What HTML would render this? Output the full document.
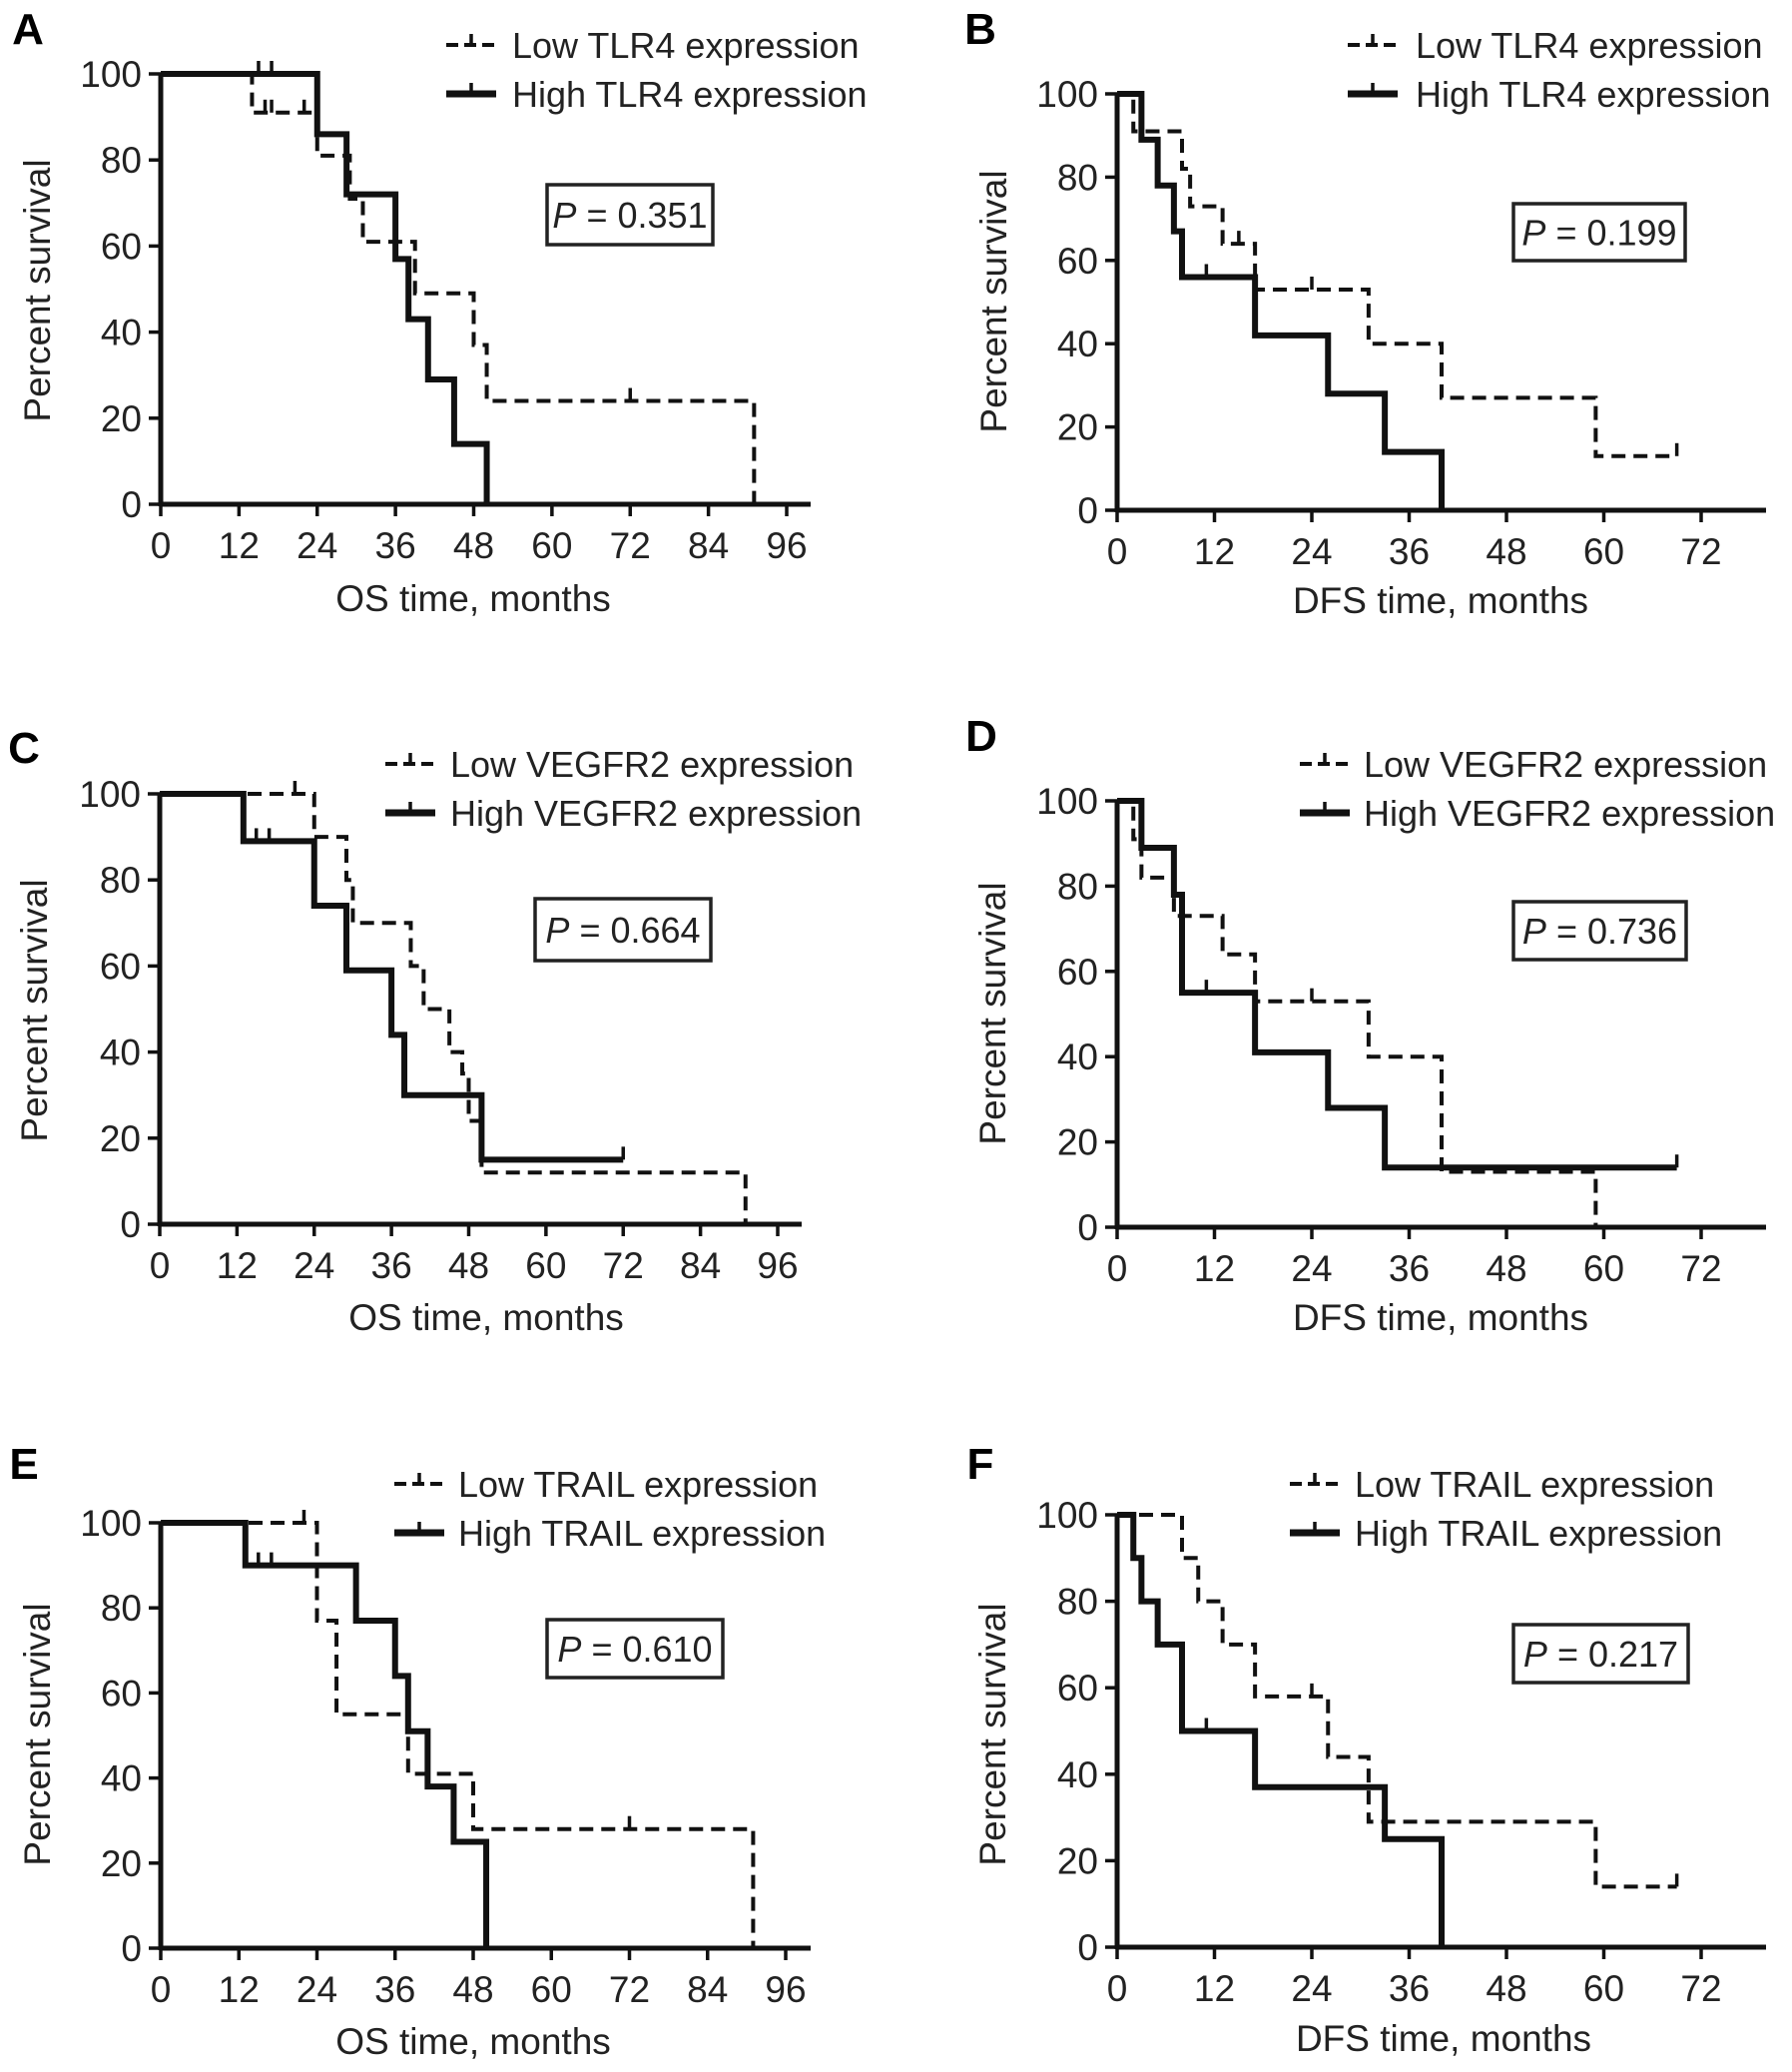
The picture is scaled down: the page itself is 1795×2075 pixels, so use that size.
<!DOCTYPE html>
<html><head><meta charset="utf-8"><style>
html,body{margin:0;padding:0;background:#fff;}
svg{display:block;font-family:"Liberation Sans",Arial,sans-serif;}
</style></head><body>
<svg id="fig" width="1795" height="2075" viewBox="0 0 1795 2075" xmlns="http://www.w3.org/2000/svg"></svg>
<script>
// Panel A (OS, TLR4)
const aLowT=[14,24,29,31,39,48,50,91], aLowS=[91,81,71,61,49,37,24,0], aLowEnd=91, aLowCens=[16,17,22,72];
const aHighT=[24,28.5,36,38,41,45,50], aHighS=[86,72,57,43,29,14,0], aHighEnd=50, aHighCens=[15,17];
// Panel B (DFS, TLR4)
const bLowT=[2,8,9,13,17,31,40,59], bLowS=[91,82,73,64,53,40,27,13], bLowEnd=69, bLowCens=[15,24,69];
const bHighT=[3,5,7,8,17,26,33,40], bHighS=[89,78,67,56,42,28,14,0], bHighEnd=40, bHighCens=[11];
// Panel C (OS, VEGFR2)
const cLowT=[24,29,30,39,41,45,47,48,50,91], cLowS=[90,80,70,60,50,40,35,24,12,0], cLowEnd=91, cLowCens=[21];
const cHighT=[13,24,29,36,38,50], cHighS=[89,74,59,44,30,15], cHighEnd=72, cHighCens=[15,17,72];
// Panel D (DFS, VEGFR2)
const dLowT=[2,3,7,13,17,31,40,59], dLowS=[91,82,73,64,53,40,13,0], dLowEnd=59, dLowCens=[24];
const dHighT=[3,7,8,17,26,33], dHighS=[89,78,55,41,28,14], dHighEnd=69, dHighCens=[11,69];
// Panel E (OS, TRAIL)
const eLowT=[24,27,38,48,91], eLowS=[77,55,41,28,0], eLowEnd=91, eLowCens=[22,72];
const eHighT=[13,30,36,38,41,45,50], eHighS=[90,77,64,51,38,25,0], eHighEnd=50, eHighCens=[15,17];
// Panel F (DFS, TRAIL)
const fLowT=[8,10,13,17,26,31,59], fLowS=[90,80,70,58,44,29,14], fLowEnd=69, fLowCens=[24,69];
const fHighT=[2,3,5,8,17,33,40], fHighS=[90,80,70,50,37,25,0], fHighEnd=40, fHighCens=[11];
const osTicks=[0,12,24,36,48,60,72,84,96];
const dfsTicks=[0,12,24,36,48,60,72];
const yTicks=[0,20,40,60,80,100];

const NS="http://www.w3.org/2000/svg";
const svg=document.getElementById('fig');
function mk(tag,attrs,parent){const e=document.createElementNS(NS,tag);for(const k in attrs)e.setAttribute(k,attrs[k]);(parent||svg).appendChild(e);return e;}

const panels=[
 {id:'a',letter:'A',lx:28,ly:44,x0:161,x1:788,xmax:96,xend:812,y0:505,y1:74,ticks:osTicks,xt:'OS  time, months',xtx:474,xty:612,ytx:40,yty:291,
  gene:'TLR4',legX:447,legTX:513,legY:45,p:'0.351',px:548,py:185,pw:166,ph:60,
  low:[aLowT,aLowS,aLowEnd,aLowCens],high:[aHighT,aHighS,aHighEnd,aHighCens]},
 {id:'b',letter:'B',lx:982,ly:44,x0:1119,x1:1704,xmax:72,xend:1769,y0:511,y1:94,ticks:dfsTicks,xt:'DFS time, months',xtx:1443,xty:614,ytx:998,yty:302,
  gene:'TLR4',legX:1350,legTX:1418,legY:45,p:'0.199',px:1516,py:204,pw:172,ph:57,
  low:[bLowT,bLowS,bLowEnd,bLowCens],high:[bHighT,bHighS,bHighEnd,bHighCens]},
 {id:'c',letter:'C',lx:24,ly:764,x0:160,x1:779,xmax:96,xend:803,y0:1226,y1:795,ticks:osTicks,xt:'OS  time, months',xtx:487,xty:1332,ytx:37,yty:1012,
  gene:'VEGFR2',legX:386,legTX:451,legY:765,p:'0.664',px:536,py:900,pw:176,ph:62,
  low:[cLowT,cLowS,cLowEnd,cLowCens],high:[cHighT,cHighS,cHighEnd,cHighCens]},
 {id:'d',letter:'D',lx:983,ly:752,x0:1119,x1:1704,xmax:72,xend:1769,y0:1229,y1:802,ticks:dfsTicks,xt:'DFS time, months',xtx:1443,xty:1332,ytx:997,yty:1015,
  gene:'VEGFR2',legX:1302,legTX:1366,legY:765,p:'0.736',px:1516,py:903,pw:173,ph:58,
  low:[dLowT,dLowS,dLowEnd,dLowCens],high:[dHighT,dHighS,dHighEnd,dHighCens]},
 {id:'e',letter:'E',lx:24,ly:1481,x0:161,x1:787,xmax:96,xend:812,y0:1951,y1:1525,ticks:osTicks,xt:'OS  time, months',xtx:474,xty:2057,ytx:40,yty:1737,
  gene:'TRAIL',legX:395,legTX:459,legY:1486,p:'0.610',px:548,py:1622,pw:176,ph:58,
  low:[eLowT,eLowS,eLowEnd,eLowCens],high:[eHighT,eHighS,eHighEnd,eHighCens]},
 {id:'f',letter:'F',lx:982,ly:1481,x0:1119,x1:1704,xmax:72,xend:1769,y0:1950,y1:1517,ticks:dfsTicks,xt:'DFS time, months',xtx:1446,xty:2054,ytx:997,yty:1737,
  gene:'TRAIL',legX:1292,legTX:1357,legY:1486,p:'0.217',px:1516,py:1627,pw:175,ph:58,
  low:[fLowT,fLowS,fLowEnd,fLowCens],high:[fHighT,fHighS,fHighEnd,fHighCens]}
];

function drawCurve(g,P,sx,sy,data,dashed){
  const [T,S,end,cens]=data;
  let d='M'+sx(0)+','+sy(100);
  for(let i=0;i<T.length;i++){d+=' H'+sx(T[i])+' V'+sy(S[i]);}
  if(end>T[T.length-1]) d+=' H'+sx(end);
  const path=mk('path',{d:d,fill:'none',stroke:'#111','stroke-width':dashed?4:6,'stroke-dasharray':dashed?'14 8':'none'},g);
  
  
  cens.forEach(c=>{
    let v=100;for(let i=0;i<T.length;i++){if(T[i]<=c)v=S[i];}
    const t=mk('line',{x1:sx(c),x2:sx(c),y1:sy(v),y2:sy(v)-13,stroke:'#111','stroke-width':3.5},g);
    
    
  });
}

panels.forEach(P=>{
  const g=mk('g',{});
  
  
  const sx=v=>P.x0+(P.x1-P.x0)*v/P.xmax;
  const sy=v=>P.y0+(P.y1-P.y0)*v/100;
  const L=mk('text',{x:P.lx,y:P.ly,'font-size':44,'font-weight':'bold','text-anchor':'middle'},g);L.textContent=P.letter;
  
  const xa=mk('line',{x1:P.x0,x2:P.xend,y1:P.y0,y2:P.y0,stroke:'#111','stroke-width':5},g);
  
  const ya=mk('line',{x1:P.x0,x2:P.x0,y1:P.y0+2,y2:P.y1,stroke:'#111','stroke-width':5},g);
  
  P.ticks.forEach(t=>{
    mk('line',{x1:sx(t),x2:sx(t),y1:P.y0,y2:P.y0+12,stroke:'#111','stroke-width':3.5},g);
    const tx=mk('text',{x:sx(t),y:P.y0+54,'font-size':37,'text-anchor':'middle',fill:'#222'},g);tx.textContent=t;
    
  });
  yTicks.forEach(t=>{
    mk('line',{x1:P.x0-12,x2:P.x0,y1:sy(t),y2:sy(t),stroke:'#111','stroke-width':3.5},g);
    const tx=mk('text',{x:P.x0-19,y:sy(t)+13,'font-size':37,'text-anchor':'end',fill:'#222'},g);tx.textContent=t;
    
  });
  const xt=mk('text',{x:P.xtx,y:P.xty,'font-size':37,'text-anchor':'middle',fill:'#222'},g);xt.textContent=P.xt;
  
  const yt=mk('text',{x:P.ytx,y:P.yty,'font-size':37,'text-anchor':'middle',fill:'#222',transform:'rotate(-90 '+P.ytx+' '+P.yty+')','dominant-baseline':'middle'},g);yt.textContent='Percent survival';
  
  drawCurve(g,P,sx,sy,P.low,true);
  drawCurve(g,P,sx,sy,P.high,false);
  [['Low',true,0],['High',false,49]].forEach(([lab,dash,dy])=>{
    const y=P.legY+dy;
    const ln=mk('line',{x1:P.legX,x2:P.legX+50,y1:y,y2:y,stroke:'#111','stroke-width':dash?4:7,'stroke-dasharray':dash?'12 6':'none'},g);
    
    mk('line',{x1:P.legX+25,x2:P.legX+25,y1:y,y2:y-11,stroke:'#111','stroke-width':3.5},g);
    const tx=mk('text',{x:P.legTX,y:y+13,'font-size':36,fill:'#222'},g);tx.textContent=lab+' '+P.gene+' expression';
    
  });
  const bx=mk('rect',{x:P.px,y:P.py,width:P.pw,height:P.ph,fill:'#fff',stroke:'#222','stroke-width':3.5},g);
  
  const pt=mk('text',{x:P.px+P.pw/2,y:P.py+P.ph/2+13,'font-size':36,'text-anchor':'middle',fill:'#222'},g);
  pt.innerHTML='<tspan font-style="italic">P</tspan> = '+P.p;
  
});
</script>
</body></html>
